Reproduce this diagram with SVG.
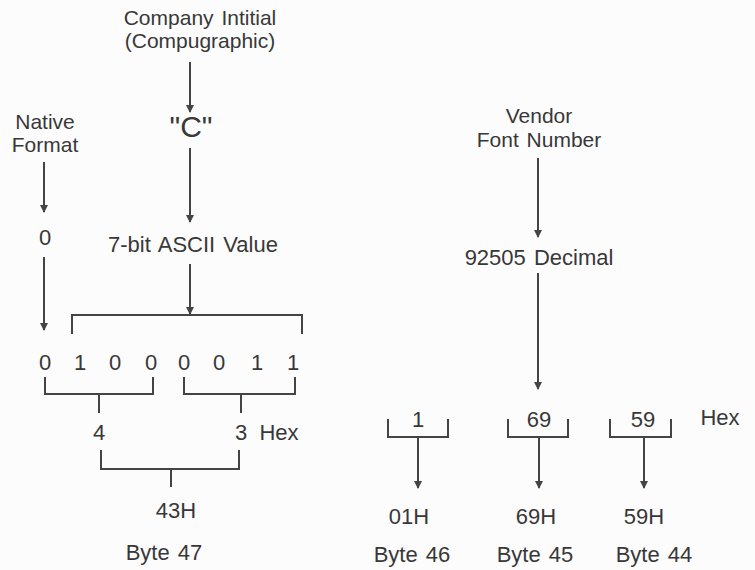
<svg xmlns="http://www.w3.org/2000/svg" width="755" height="570" viewBox="0 0 755 570">
<style>
text{font-family:"Liberation Sans",Arial,sans-serif;font-size:22px;fill:#383838;text-anchor:middle;word-spacing:2px}
.two{font-size:21px}
.ln{stroke:#444;stroke-width:2;fill:none}
.ar{stroke:#444;stroke-width:2;fill:none;marker-end:url(#ah)}
</style>
<defs>
<marker id="ah" markerWidth="8" markerHeight="10" refX="7" refY="4" orient="auto" markerUnits="userSpaceOnUse">
<path d="M0,0 L8,4 L0,8 Z" fill="#444"/>
</marker>
</defs>
<rect width="755" height="570" fill="#fcfcfc"/>
<g id="company"><text class="two" x="200" y="25">Company Intitial</text><text class="two" x="200" y="48">(Compugraphic)</text></g>
<g id="c"><text x="191" y="137" style="font-size:30px">"C"</text></g>
<g id="native"><text class="two" x="45" y="129">Native</text><text class="two" x="45" y="152">Format</text></g>
<g id="zero"><text x="45" y="245">0</text></g>
<g id="ascii"><text x="193" y="252">7-bit ASCII Value</text></g>
<g id="bits">
<text x="45" y="370">0</text><text x="80" y="370">1</text><text x="115" y="370">0</text><text x="151" y="370">0</text>
<text x="184" y="370">0</text><text x="219" y="370">0</text><text x="257" y="370">1</text><text x="293" y="370">1</text>
</g>
<g id="four"><text x="99" y="440">4</text></g>
<g id="three"><text x="241" y="440">3</text><text x="279" y="440">Hex</text></g>
<g id="h43"><text x="176" y="518">43H</text></g>
<g id="byte47"><text x="164" y="560">Byte 47</text></g>
<g id="vendor"><text class="two" x="539" y="123">Vendor</text><text class="two" x="539" y="147">Font Number</text></g>
<g id="decimal"><text x="539" y="265">92505 Decimal</text></g>
<g id="hex1"><text x="418" y="427">1</text></g>
<g id="hex69"><text x="539" y="427">69</text></g>
<g id="hex59"><text x="643" y="427">59</text></g>
<g id="hexlabel"><text x="720" y="425">Hex</text></g>
<g id="h01"><text x="409" y="524">01H</text><text x="412" y="562">Byte 46</text></g>
<g id="h69"><text x="536" y="524">69H</text><text x="535" y="562">Byte 45</text></g>
<g id="h59"><text x="644" y="524">59H</text><text x="654" y="562">Byte 44</text></g>
<g id="connectors">
<line class="ar" x1="190" y1="62" x2="190" y2="112"/>
<line class="ar" x1="190" y1="148" x2="190" y2="222"/>
<line class="ar" x1="44" y1="162" x2="44" y2="212"/>
<line class="ar" x1="44" y1="257" x2="44" y2="330"/>
<line class="ar" x1="190" y1="264" x2="190" y2="314"/>
<path class="ln" d="M72,334 V315 H302 V334"/>
<path class="ln" d="M45,377 V394 H153 V377 M99,394 V413"/>
<path class="ln" d="M184,377 V394 H295 V377 M241,394 V413"/>
<path class="ln" d="M101,450 V469 H239 V450 M171,469 V487"/>
<line class="ar" x1="538" y1="158" x2="538" y2="237"/>
<line class="ar" x1="538" y1="273" x2="538" y2="389"/>
<path class="ln" d="M388,419 V437 H448 V419"/>
<path class="ln" d="M508,419 V437 H568 V419"/>
<path class="ln" d="M610,419 V437 H671 V419"/>
<line class="ar" x1="418" y1="437" x2="418" y2="488"/>
<line class="ar" x1="539" y1="437" x2="539" y2="488"/>
<line class="ar" x1="644" y1="437" x2="644" y2="488"/>
</g>
</svg>
